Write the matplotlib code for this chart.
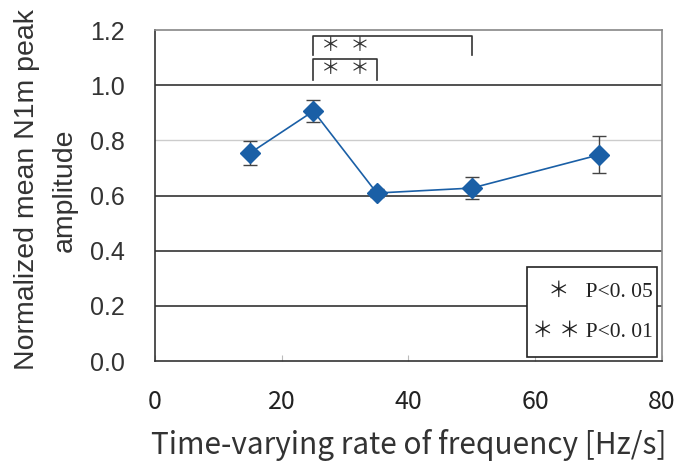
import numpy as np
import matplotlib
matplotlib.use("Agg")
import matplotlib.pyplot as plt
from matplotlib.patches import Rectangle

# data
rate = [15, 25, 35, 50, 70]
amplitude = [0.754, 0.906, 0.609, 0.627, 0.747]
err = [0.043, 0.040, 0.015, 0.039, 0.067]

yticks = [0.0, 0.2, 0.4, 0.6, 0.8, 1.0, 1.2]
xticks = [0, 20, 40, 60, 80]

gothic = ['Noto Sans CJK JP', 'DejaVu Sans']
serif = ['Liberation Serif', 'Noto Sans CJK JP']

fig = plt.figure(figsize=(6.78, 4.71), dpi=100)
ax = fig.add_axes([0.2286, 0.2335, 0.7478, 0.7028])

# grid lines (0.8 is a light one)
for y in [0.2, 0.4, 0.6, 1.0]:
    ax.axhline(y, color='#333333', lw=1.2, zorder=1)
ax.axhline(0.8, color='#cccccc', lw=1.0, zorder=1)

ax.errorbar(rate, amplitude, yerr=err, color='#1a5fa6', lw=1.2,
            marker='D', markersize=10.5, ecolor='#444444', elinewidth=1.0,
            capsize=5, capthick=1.0, zorder=3)

ax.set_xlim(0, 80)
ax.set_ylim(0, 1.2)
ax.set_xticks(xticks)
ax.set_yticks(yticks)
ax.set_xticklabels([str(v) for v in xticks], family=gothic, fontsize=18, color='#222222')
ax.set_yticklabels(['%.1f' % v for v in yticks], family='Liberation Sans', fontsize=18, color='#333333')
ax.tick_params(axis='x', direction='in', length=4, color='#bbbbbb', pad=20)
ax.tick_params(axis='y', direction='in', length=0, pad=22)
for s in ax.spines.values():
    s.set_color('#888888')
    s.set_linewidth(1.2)
ax.spines['left'].set_color('#333333')
ax.spines['bottom'].set_color('#333333')

ax.set_xlabel('Time-varying rate of frequency [Hz/s]', family=gothic, fontsize=21.5, color='#333333')
ax.xaxis.set_label_coords(0.5, -0.205)
ax.set_ylabel('Normalized mean N1m peak\namplitude', family='Liberation Sans', fontsize=20.5, color='#333333',
              linespacing=1.6)
ax.yaxis.set_label_coords(-0.152, 0.517)

# significance brackets
def bracket(x0, x1, ytop, ybot, label, ylab):
    ax.plot([x0, x0, x1, x1], [ybot, ytop, ytop, ybot], color='#333333', lw=1.2, clip_on=False, zorder=4)
    ax.text(x0 + 5, ylab, label, family=serif, fontsize=14, color='#333333',
            ha='center', va='center', clip_on=False)

bracket(25, 50, 1.178, 1.11, '＊  ＊', 1.139)
bracket(25, 35, 1.094, 1.017, '＊  ＊', 1.056)

# legend box with p-values
ax.add_patch(Rectangle((58.7, 0.0145), 20.5, 0.327, fc='white', ec='#222222', lw=1.2, zorder=5))
ax.text(78.5, 0.247, '＊   P<0. 05', family=serif, fontsize=15.5, color='#222222',
        ha='right', va='center', zorder=6)
ax.text(78.5, 0.105, '＊ ＊ P<0. 01', family=serif, fontsize=15.5, color='#222222',
        ha='right', va='center', zorder=6)

fig.savefig('out.png', dpi=100)
